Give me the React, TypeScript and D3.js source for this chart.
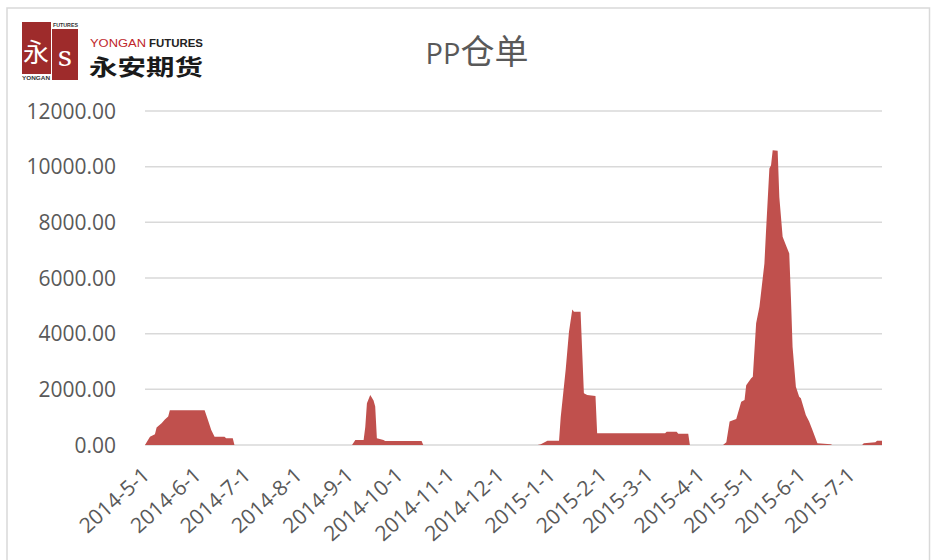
import React, { useRef, useEffect } from "react"
import * as d3 from "d3"

// PP warehouse receipts (sparse breakpoints of the area)
const dates = [
  "2014-05-01", "2014-05-02", "2014-05-04", "2014-05-07", "2014-05-08", "2014-05-11", "2014-05-13",
  "2014-05-15", "2014-05-16", "2014-06-06", "2014-06-08", "2014-06-10", "2014-06-12", "2014-06-18",
  "2014-06-19", "2014-06-23", "2014-06-24",
  "2014-09-03", "2014-09-05", "2014-09-10", "2014-09-11", "2014-09-12", "2014-09-14", "2014-09-16",
  "2014-09-17", "2014-09-18", "2014-09-22", "2014-09-23", "2014-10-15", "2014-10-16",
  "2014-12-24", "2014-12-26", "2014-12-30", "2015-01-06", "2015-01-07", "2015-01-10", "2015-01-12",
  "2015-01-14", "2015-01-15", "2015-01-19", "2015-01-21", "2015-01-23", "2015-01-28", "2015-01-29",
  "2015-03-11", "2015-03-12", "2015-03-18", "2015-03-19", "2015-03-25", "2015-03-26",
  "2015-04-15", "2015-04-17", "2015-04-19", "2015-04-23", "2015-04-26", "2015-04-28", "2015-04-29",
  "2015-05-02", "2015-05-03", "2015-05-05", "2015-05-07", "2015-05-10", "2015-05-11", "2015-05-13",
  "2015-05-14", "2015-05-15", "2015-05-18", "2015-05-19", "2015-05-21", "2015-05-23", "2015-05-25",
  "2015-05-26", "2015-05-27", "2015-05-29", "2015-05-31", "2015-06-01", "2015-06-04", "2015-06-06",
  "2015-06-08", "2015-06-11", "2015-06-19", "2015-06-20",
  "2015-07-08", "2015-07-09", "2015-07-16", "2015-07-17", "2015-07-20",
]

const values = [
  0, 100, 300, 390, 630, 780, 920,
  1020, 1250, 1250, 900, 540, 300, 300,
  240, 240, 0,
  0, 180, 180, 650, 1500, 1800, 1600,
  1380, 240, 180, 140, 140, 0,
  0, 30, 150, 150, 1000, 2700, 4070,
  4870, 4790, 4790, 1860, 1800, 1760, 420,
  420, 480, 480, 400, 400, 0,
  0, 100, 840, 930, 1550, 1620, 2150,
  2400, 2450, 4370, 4970, 6520, 7720, 9930,
  10050, 10590, 10570, 8910, 7480, 7180, 6880,
  5320, 3530, 2090, 1730, 1680, 1080, 840,
  540, 60, 30, 0,
  0, 60, 100, 150, 150,
]

const yTicks = [0, 2000, 4000, 6000, 8000, 10000, 12000]

const W = 931
const H = 560
const textColor = "#595959"
const gridColor = "#d9d9d9"

const App: React.FC = () => {
  const svgRef = useRef<SVGSVGElement>(null)

  useEffect(() => {
    if (!svgRef.current) return
    const svg = d3.select(svgRef.current)
    svg.selectAll("*").remove()

    const parse = d3.timeParse("%Y-%m-%d")
    const data = dates.map((d, i) => ({ date: parse(d) as Date, value: values[i] }))

    const x = d3.scaleTime()
      .domain([parse("2014-05-01") as Date, parse("2015-07-20") as Date])
      .range([145, 882])
    const y = d3.scaleLinear().domain([0, 12000]).range([445, 111])

    // outer frame
    svg.append("rect")
      .attr("x", 7).attr("y", 8)
      .attr("width", 922.5).attr("height", 600)
      .attr("fill", "white")
      .attr("stroke", gridColor)
      .attr("stroke-width", 1.5)

    // gridlines
    svg.append("g")
      .selectAll("line")
      .data(yTicks)
      .enter()
      .append("line")
      .attr("x1", 145).attr("x2", 882)
      .attr("y1", (d) => y(d)).attr("y2", (d) => y(d))
      .attr("stroke", gridColor)
      .attr("stroke-width", 1.5)

    // y labels
    svg.append("g")
      .selectAll("text")
      .data(yTicks)
      .enter()
      .append("text")
      .attr("x", 116)
      .attr("y", (d) => y(d) + 7.5)
      .attr("text-anchor", "end")
      .attr("font-family", "'Open Sans', 'Noto Sans', sans-serif")
      .attr("font-size", 21)
      .attr("fill", textColor)
      .text((d) => d3.format(".2f")(d))

    // area
    const area = d3.area<{ date: Date; value: number }>()
      .x((d) => x(d.date))
      .y0(y(0))
      .y1((d) => y(d.value))

    svg.append("path")
      .datum(data)
      .attr("d", area)
      .attr("fill", "#c0504d")

    // x labels (monthly)
    const months = d3.timeMonth.range(parse("2014-05-01") as Date, parse("2015-07-02") as Date)
    svg.append("g")
      .selectAll("text")
      .data(months)
      .enter()
      .append("text")
      .attr("transform", (d) => `translate(${x(d) + 6},477) rotate(-42)`)
      .attr("text-anchor", "end")
      .attr("font-family", "'Open Sans', 'Noto Sans', sans-serif")
      .attr("font-size", 21)
      .attr("fill", textColor)
      .text((d) => `${d.getFullYear()}-${d.getMonth() + 1}-1`)

    // title
    const title = svg.append("text")
      .attr("x", 477)
      .attr("y", 64)
      .attr("text-anchor", "middle")
      .attr("fill", textColor)
    title.append("tspan")
      .attr("font-family", "'Open Sans', sans-serif")
      .attr("font-size", 29)
      .text("PP")
    title.append("tspan")
      .attr("font-family", "'Noto Sans CJK SC', sans-serif")
      .attr("font-size", 34)
      .text("仓单")

    // logo
    const logo = svg.append("g")
    logo.append("rect").attr("x", 22).attr("y", 22).attr("width", 29).attr("height", 52).attr("fill", "#9e2b2b")
    logo.append("rect").attr("x", 52).attr("y", 29).attr("width", 26).attr("height", 51).attr("fill", "#9e2b2b")
    logo.append("text")
      .attr("x", 36).attr("y", 62)
      .attr("text-anchor", "middle")
      .attr("font-family", "'Noto Sans CJK SC', sans-serif")
      .attr("font-size", 26)
      .attr("fill", "white")
      .text("永")
    logo.append("text")
      .attr("x", 65).attr("y", 66)
      .attr("text-anchor", "middle")
      .attr("font-family", "'DejaVu Serif', serif")
      .attr("font-size", 28)
      .attr("fill", "white")
      .text("s")
    logo.append("text")
      .attr("x", 53).attr("y", 27)
      .attr("font-family", "'Liberation Sans', sans-serif")
      .attr("font-size", 5)
      .attr("font-weight", "bold")
      .attr("textLength", 25)
      .attr("lengthAdjust", "spacingAndGlyphs")
      .attr("fill", "#333")
      .text("FUTURES")
    logo.append("text")
      .attr("x", 22).attr("y", 80)
      .attr("font-family", "'Liberation Sans', sans-serif")
      .attr("font-size", 5)
      .attr("font-weight", "bold")
      .attr("textLength", 28)
      .attr("lengthAdjust", "spacingAndGlyphs")
      .attr("fill", "#333")
      .text("YONGAN")

    logo.append("text")
      .attr("x", 90).attr("y", 47)
      .attr("font-family", "'Liberation Sans', sans-serif")
      .attr("font-size", 10)
      .attr("textLength", 56)
      .attr("lengthAdjust", "spacingAndGlyphs")
      .attr("fill", "#c0272d")
      .text("YONGAN")
    logo.append("text")
      .attr("x", 149).attr("y", 47)
      .attr("font-family", "'Liberation Sans', sans-serif")
      .attr("font-size", 10)
      .attr("font-weight", "bold")
      .attr("textLength", 54)
      .attr("lengthAdjust", "spacingAndGlyphs")
      .attr("fill", "#222")
      .text("FUTURES")

    logo.append("text")
      .attr("x", 89).attr("y", 75)
      .attr("font-family", "'Noto Sans CJK SC', sans-serif")
      .attr("font-size", 22)
      .attr("font-weight", "bold")
      .attr("textLength", 114)
      .attr("lengthAdjust", "spacingAndGlyphs")
      .attr("fill", "#1a1a1a")
      .text("永安期货")

    return () => {
      svg.selectAll("*").remove()
    }
  }, [])

  return (
    <div>
      <svg
        ref={svgRef}
        width={W}
        height={H}
        style={{ position: "absolute", left: 0, top: 0, background: "white" }}
      ></svg>
    </div>
  )
}

export default App
